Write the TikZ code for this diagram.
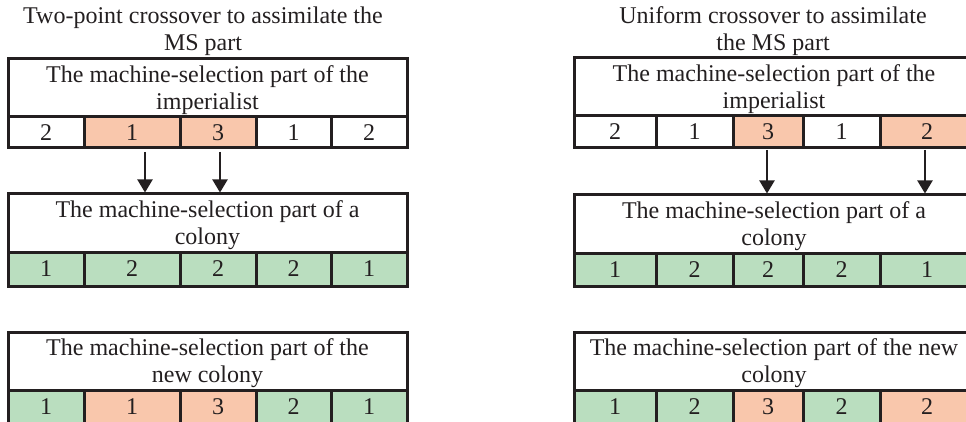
\documentclass[tikz,border=0pt]{standalone}
\usepackage{fontspec}
\setmainfont{Liberation Serif}
\usetikzlibrary{arrows.meta}

\definecolor{ink}{HTML}{231F20}
\definecolor{peach}{HTML}{F9C7AC}
\definecolor{leaf}{HTML}{BADEBF}

% strut that lowers the two text lines of a header box a little
\newcommand\hdstrut{\rule{0pt}{21pt}}

\tikzset{
  boxline/.style={draw=ink, line width=3pt, inner sep=0pt, outer sep=0pt, text=ink,
    font=\fontsize{24}{27}\selectfont},
  headbox/.style={boxline, fill=white, align=center},
  cellbox/.style={boxline},
  titletext/.style={text=ink, align=center, inner sep=0pt, font=\fontsize{24}{27}\selectfont},
  arr/.style={draw=ink, line width=2pt, -{Triangle[width=15pt,length=13pt]}, shorten >=1.5pt},
}

% one row of gene cells: name prefix, top, bottom, {left/right/value/colour, ...}
\newcommand\generow[4]{%
  \foreach \i/\a/\b/\v/\c in {#4}
    \node[cellbox, fill=\c, minimum width={\b-\a}, minimum height={#3-#2}]
      (#1-\i) at ({(\a+\b)/2},{(#2+#3)/2}) {\v};
}

\begin{document}
\begin{tikzpicture}[x=1pt,y=-1pt]
\useasboundingbox (0,0) rectangle (966,422);
\clip (0,0) rectangle (966,422);

% ---------- two-point crossover ----------
\node[titletext] (l-title) at (203,31.5) {Two-point crossover to assimilate the\\MS part};

\node[headbox, minimum width=399, minimum height=58] (l-imp) at (207.5,88)
  {\hdstrut The machine-selection part of the\\imperialist};
\generow{l-imp}{117}{148}{1/8/84/2/white, 2/84/180/1/peach, 3/180/256/3/peach, 4/256/331/1/white, 5/331/407/2/white}

\node[headbox, minimum width=399, minimum height=58] (l-col) at (207.5,223)
  {\hdstrut The machine-selection part of a\\colony};
\generow{l-col}{252}{286}{1/8/84/1/leaf, 2/84/180/2/leaf, 3/180/256/2/leaf, 4/256/331/2/leaf, 5/331/407/1/leaf}

\node[headbox, minimum width=399, minimum height=58] (l-new) at (207.5,361)
  {\hdstrut The machine-selection part of the\\new colony};
\generow{l-new}{390}{423}{1/8/84/1/leaf, 2/84/180/1/peach, 3/180/256/3/peach, 4/256/331/2/leaf, 5/331/407/1/leaf}

\draw[arr] ([xshift=13pt,yshift=-4pt]l-imp-2.south) -- ([xshift=13pt]l-imp-2.south |- l-col.north);
\draw[arr] ([xshift=2pt,yshift=-4pt]l-imp-3.south) -- ([xshift=2pt]l-imp-3.south |- l-col.north);

% ---------- uniform crossover ----------
\node[titletext] (r-title) at (773,31.5) {Uniform crossover to assimilate\\the MS part};

\node[headbox, minimum width=400, minimum height=58] (r-imp) at (774,87)
  {\hdstrut The machine-selection part of the\\imperialist};
\generow{r-imp}{116}{148}{1/574/656/2/white, 2/656/733/1/white, 3/733/803/3/peach, 4/803/880/1/white, 5/880/974/2/peach}

\node[headbox, minimum width=400, minimum height=58] (r-col) at (774,224)
  {\hdstrut The machine-selection part of a\\colony};
\generow{r-col}{253}{286}{1/574/656/1/leaf, 2/656/733/2/leaf, 3/733/803/2/leaf, 4/803/880/2/leaf, 5/880/974/1/leaf}

\node[headbox, minimum width=400, minimum height=58] (r-new) at (774,361)
  {\hdstrut The machine-selection part of the new\\colony};
\generow{r-new}{390}{423}{1/574/656/1/leaf, 2/656/733/2/leaf, 3/733/803/3/peach, 4/803/880/2/leaf, 5/880/974/2/peach}

\draw[arr] ([xshift=-1pt,yshift=-2pt]r-imp-3.south) -- ([xshift=-1pt]r-imp-3.south |- r-col.north);
\draw[arr] ([xshift=-2pt,yshift=-2pt]r-imp-5.south) -- ([xshift=-2pt]r-imp-5.south |- r-col.north);

\end{tikzpicture}
\end{document}
